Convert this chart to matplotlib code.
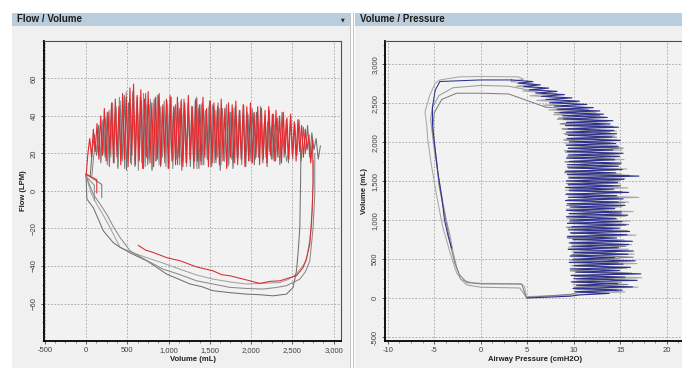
import numpy as np
import matplotlib
matplotlib.use('Agg')
import matplotlib.pyplot as plt
from matplotlib.patches import Rectangle
from matplotlib.ticker import AutoMinorLocator, FuncFormatter

plt.rcParams['font.family'] = ['Liberation Sans', 'DejaVu Sans']

# ---------------- Flow / Volume data ----------------
# inspiration flow (LPM), alternating trough / peak along the breath
red_in_flow = [8, 20, 28, 18, 33, 21, 36, 17, 40, 19, 44, 16, 42, 20, 47, 15, 49, 18, 45, 14, 52, 17, 50, 13,
               55, 19, 57, 14, 51, 16, 54, 12, 49, 18, 53, 15, 47, 13, 50, 17, 52, 14, 46, 19, 49, 12, 51, 16,
               45, 14, 50, 18, 48, 13, 47, 15, 51, 17, 45, 12, 49, 16, 46, 14, 50, 18, 44, 13, 48, 15, 47, 17,
               45, 14, 49, 16, 44, 12, 47, 18, 46, 15, 48, 14, 43, 17, 46, 13, 45, 16, 47, 15, 42, 18, 45, 14,
               44, 17, 43, 15, 45, 19, 41, 16, 43, 18, 40, 15, 42, 20, 39, 17, 41, 19, 37, 16, 38, 21, 35, 18,
               33, 22, 30, 15, 27]
red_in_range = (0, 2745)
gray1_in_flow = [8, 22, 30, 19, 35, 15, 38, 18, 42, 13, 46, 17, 44, 12, 48, 16, 51, 11, 47, 15, 53, 13, 50, 17,
                 48, 12, 52, 14, 46, 11, 49, 16, 51, 13, 45, 15, 48, 12, 50, 17, 46, 14, 44, 11, 49, 15, 47, 13,
                 45, 16, 50, 12, 46, 14, 43, 17, 48, 13, 45, 15, 47, 11, 44, 16, 46, 14, 42, 12, 45, 17, 43, 15,
                 46, 13, 41, 16, 44, 14, 42, 18, 45, 15, 40, 13, 43, 17, 41, 16, 39, 14, 42, 18, 38, 15, 40, 17,
                 36, 19, 38, 16, 34, 20, 35, 18, 31, 22, 28, 17, 24]
gray1_in_range = (0, 2600)
gray2_in_flow = [8, 18, 26, 21, 31, 16, 37, 20, 39, 14, 43, 18, 47, 15, 45, 13, 50, 17, 48, 12, 53, 16, 49, 14,
                 51, 18, 47, 11, 50, 15, 52, 13, 46, 17, 49, 12, 47, 16, 51, 14, 45, 18, 48, 13, 46, 15, 50, 12,
                 44, 17, 47, 14, 49, 16, 43, 13, 46, 18, 45, 15, 48, 12, 44, 16, 47, 14, 42, 17, 45, 13, 46, 15,
                 43, 18, 44, 14, 41, 16, 45, 13, 42, 17, 44, 15, 40, 18, 43, 14, 41, 16, 42, 19, 39, 15, 41, 17,
                 38, 20, 40, 16, 36, 18, 37, 21, 34, 17, 35, 22, 31, 19, 28, 23, 25, 16, 20]
gray2_in_range = (0, 2772)

# expiration limbs (volume mL, flow LPM)
red_ex_vol = [2745, 2752, 2740, 2712, 2671, 2631, 2550, 2450, 2349, 2230, 2106, 1950, 1743, 1640, 1541, 1340,
              1138, 980, 815, 720, 633]
red_ex_flow = [27, 5, -10.6, -28.4, -36, -40.8, -45.2, -46.5, -47.9, -48.2, -49.3, -47.5, -45.2, -44.6, -42.6,
               -40.5, -37.2, -35.6, -32.8, -31.5, -29]
grayA_ex_vol = [2600, 2603, 2591, 2570, 2550, 2510, 2429, 2267, 2100, 1945, 1740, 1541, 1400, 1259, 976, 860,
                734, 533, 492, 412, 331, 210, 89, 10, 0]
grayA_ex_flow = [24, 14, -19.5, -33, -42.6, -51.4, -55, -55.9, -55.3, -55, -54.2, -53.2, -51, -49.6, -44.3,
                 -40.8, -37.2, -33, -31.9, -30, -27.6, -21.3, -9, -4.3, 8]
grayB_ex_vol = [2772, 2772, 2752, 2712, 2660, 2591, 2429, 2300, 2146, 1950, 1743, 1540, 1339, 1138, 936, 734,
                533, 412, 330, 250, 170, 89, 0]
grayB_ex_flow = [20, -1.8, -19.5, -37.2, -43, -47, -50.5, -51.5, -52.3, -52, -51.4, -49.6, -47.9, -44.6, -41.7,
                 -37, -31.9, -24.8, -19, -12.4, -7, -1.8, 8]
grayC_ex_vol = [2760, 2752, 2732, 2671, 2550, 2450, 2349, 2146, 1945, 1743, 1541, 1339, 1138, 936, 734, 570,
                412, 290, 210, 130, 60, 0]
grayC_ex_flow = [16, 5.3, -19.5, -37.2, -44.3, -47.2, -48.8, -49.2, -49.6, -48.5, -47, -44.8, -41.7, -38.5,
                 -35.5, -33, -30.1, -19.5, -13, -7.1, -1, 8]
# short end-of-breath segments near zero volume
stub_red_vol, stub_red_flow = [0, 130, 130], [9, 6, -1]
stub_g1_vol, stub_g1_flow = [0, 190, 190], [9, 3.5, -3.6]
stub_g2_vol, stub_g2_flow = [0, 100, 100], [8, 3, -5]

# ---------------- Volume / Pressure data ----------------
blue_in_p = [10.5, 13.8, 10.1, 15.2, 9.9, 16.3, 10.3, 14.7, 9.8, 16.8,
             10.0, 15.5, 9.7, 17.2, 10.2, 14.9, 9.6, 16.1, 10.1, 15.3,
             9.5, 16.6, 9.9, 14.4, 9.6, 15.8, 10.0, 16.4, 9.4, 14.8,
             9.8, 15.9, 9.5, 16.3, 9.9, 14.6, 9.3, 15.7, 9.7, 16.0,
             9.4, 14.9, 9.8, 15.6, 9.3, 15.2, 9.6, 14.5, 9.2, 15.8,
             9.5, 15.1, 9.2, 14.4, 9.6, 15.5, 9.3, 14.8, 9.1, 15.3,
             9.4, 14.6, 9.2, 15.9, 9.5, 14.3, 9.1, 15.0, 9.4, 14.7,
             9.2, 15.4, 9.5, 17.0, 9.3, 14.5, 9.1, 15.2, 9.4, 14.8,
             9.3, 15.1, 9.5, 14.4, 9.2, 14.9, 9.4, 15.3, 9.3, 14.2,
             9.4, 14.8, 9.2, 14.5, 9.5, 15.0, 9.3, 14.1, 9.4, 14.6,
             9.2, 14.3, 9.4, 14.8, 9.1, 13.9, 9.2, 14.2, 8.9, 13.6,
             8.8, 13.2, 8.5, 12.8, 8.2, 12.1, 7.9, 11.4, 7.4, 10.6,
             7.0, 9.8, 6.5, 9.0, 5.9, 8.2, 5.2, 7.3, 4.6, 6.4,
             4.0, 5.6, 3.3]
blue_in_range = (40, 2800)
blue_start_p, blue_start_v = [5.0, 9.6], [2, 25]
blue_ex_p = [-0.1, -4.4, -4.9, -5.2, -5.2, -4.9, -4.6, -4.2, -3.9, -3.5, -3.15]
blue_ex_v = [2800, 2780, 2670, 2450, 2245, 1900, 1600, 1300, 1000, 790, 645]

gray1_in_p = [10.8, 15.5, 10.2, 16.9, 9.9, 15.1, 10.3, 17.3, 9.8, 16.2,
              10.1, 15.7, 9.7, 16.8, 9.9, 15.0, 9.6, 16.5, 9.8, 15.9,
              9.4, 16.2, 9.7, 15.4, 9.3, 16.7, 9.6, 15.8, 9.4, 14.9,
              9.7, 16.1, 9.3, 15.6, 9.5, 16.4, 9.2, 15.2, 9.6, 15.9,
              9.3, 17.0, 9.5, 15.3, 9.1, 15.8, 9.4, 14.9, 9.2, 15.5,
              9.4, 15.1, 9.1, 15.7, 9.3, 14.6, 9.0, 15.4, 9.3, 14.9,
              9.1, 15.2, 9.4, 14.7, 9.0, 15.0, 9.2, 14.4, 8.9, 14.6,
              8.7, 14.1, 8.5, 13.7, 8.2, 13.2, 7.8, 12.4, 7.3, 11.5,
              6.7, 10.4, 6.0, 9.3, 5.3, 8.1, 4.5, 6.9, 3.8, 5.7,
              3.2, 4.6, 4.0]
gray1_in_range = (50, 2840)
gray1_start_p, gray1_start_v = [4.9, 10.0], [20, 40]
gray1_ex_p = [0, -2.3, -4.4, -4.9, -5.5, -6.0, -5.8, -5.7, -5.3, -4.8, -4.4, -4.1, -3.7, -3.3, -2.9, -2.6,
              -2.1, -1.0, 0, 4.3, 4.7, 4.9]
gray1_ex_v = [2845, 2840, 2800, 2760, 2600, 2390, 2200, 2030, 1700, 1350, 1100, 918, 750, 580, 430, 324,
              235, 200, 190, 185, 150, 20]

gray2_in_p = [10.4, 14.6, 10.0, 15.8, 9.7, 14.3, 10.1, 16.1, 9.6, 15.2,
              9.9, 14.8, 9.5, 16.4, 9.8, 14.5, 9.4, 15.6, 9.7, 14.9,
              9.3, 15.3, 9.6, 14.2, 9.2, 15.9, 9.5, 14.7, 9.3, 15.1,
              9.6, 14.4, 9.2, 15.5, 9.4, 14.8, 9.1, 15.2, 9.5, 14.1,
              9.2, 14.9, 9.4, 16.0, 9.0, 14.5, 9.3, 15.0, 9.1, 14.3,
              9.3, 14.7, 9.0, 15.3, 9.2, 14.0, 8.9, 14.6, 9.1, 13.9,
              8.8, 14.2, 8.6, 13.5, 8.3, 12.8, 7.9, 11.6, 7.0]
gray2_in_range = (70, 2450)
gray2_start_p, gray2_start_v = [4.9, 9.7], [8, 50]
gray2_ex_p = [3.0, 0, -2.6, -4.2, -5.0, -5.2, -4.9, -4.7, -4.5, -4.0, -3.6, -3.2, -2.8, -2.3, -1.5, 0, 4.4, 4.9]
gray2_ex_v = [2620, 2630, 2630, 2550, 2380, 2150, 1900, 1700, 1450, 1150, 900, 650, 450, 300, 200, 183, 180, 5]

gray3_ex_p = [6.0, 3.0, 0, -3.0, -4.5, -5.2, -5.4, -5.2, -5.0, -4.6, -4.2, -3.7, -3.3, -3.0, -2.6, -2.2,
              -1.5, 0, 4.2, 4.9]
gray3_ex_v = [2650, 2720, 2730, 2700, 2600, 2450, 2300, 2100, 1900, 1600, 1300, 1000, 800, 600, 400, 250,
              170, 140, 130, 10]

fv_xticks = [-500, 0, 500, 1000, 1500, 2000, 2500, 3000]
fv_yticks = [-60, -40, -20, 0, 20, 40, 60]
pv_xticks = [-10, -5, 0, 5, 10, 15, 20]
pv_yticks = [-500, 0, 500, 1000, 1500, 2000, 2500, 3000]

W, H = 682, 368
fig = plt.figure(figsize=(W / 100, H / 100), dpi=100)
fig.patch.set_facecolor('white')


def rect(x0, y0, x1, y1, **kw):
    fig.add_artist(Rectangle((x0 / W, 1 - y1 / H), (x1 - x0) / W, (y1 - y0) / H,
                             transform=fig.transFigure, zorder=-10, **kw))


# panel backgrounds, headers and separator
rect(12, 13, 350, 368, color='#f0f0f0', lw=0)
rect(355, 13, 682, 368, color='#f0f0f0', lw=0)
rect(12, 13, 350, 26, color='#b9cddc', lw=0)
rect(355, 13, 682, 26, color='#b9cddc', lw=0)
rect(350, 13, 351, 368, color='#c4c4c4', lw=0)
rect(353, 13, 354, 368, color='#c4c4c4', lw=0)
fig.text(17 / W, 1 - 19.5 / H, 'Flow / Volume', fontsize=7, fontweight='bold', color='#1c1c1c',
         va='center', ha='left')
fig.text(360 / W, 1 - 19.5 / H, 'Volume / Pressure', fontsize=7, fontweight='bold', color='#1c1c1c',
         va='center', ha='left')
fig.text(343 / W, 1 - 19.5 / H, '\u25bc', fontsize=3.5, color='#202020', va='center', ha='center',
         family='DejaVu Sans')

ax1 = fig.add_axes([44 / W, 1 - 341 / H, 297 / W, 300 / H])
ax2 = fig.add_axes([385 / W, 1 - 341 / H, 301 / W, 300 / H])

comma = FuncFormatter(lambda v, pos: f'{v:,.0f}')


def style(ax, xticks, yticks, xlim, ylim, xlabel, ylabel, yfmt=None):
    ax.set_facecolor('#f2f2f2')
    ax.set_xlim(*xlim)
    ax.set_ylim(*ylim)
    ax.set_xticks(xticks)
    ax.set_yticks(yticks)
    ax.xaxis.set_major_formatter(comma)
    if yfmt is not None:
        ax.yaxis.set_major_formatter(yfmt)
    ax.xaxis.set_minor_locator(AutoMinorLocator(4))
    ax.yaxis.set_minor_locator(AutoMinorLocator(4))
    ax.grid(True, which='major', color='#a0a0a0', lw=0.6, linestyle=(0, (2, 2)))
    ax.tick_params(which='major', length=2.5, width=0.6, color='#404040', labelsize=5.5,
                   labelcolor='#404040', pad=2)
    ax.tick_params(which='minor', length=1.5, width=0.5, color='#606060')
    for lab in ax.get_yticklabels():
        lab.set_rotation(90)
        lab.set_va('center')
    for s in ('left', 'bottom'):
        ax.spines[s].set_color('black')
        ax.spines[s].set_linewidth(1.3)
    for s in ('top', 'right'):
        ax.spines[s].set_color('#505050')
        ax.spines[s].set_linewidth(0.8)
    ax.set_xlabel(xlabel, fontsize=5.5, fontweight='bold', color='#202020', labelpad=1)
    ax.set_ylabel(ylabel, fontsize=5.5, fontweight='bold', color='#202020', labelpad=3)
    ax.set_axisbelow(True)


style(ax1, fv_xticks, fv_yticks, (-510, 3090), (-80, 80), 'Volume (mL)', 'Flow (LPM)')
style(ax2, pv_xticks, pv_yticks, (-10.3, 22.06), (-550, 3300), 'Airway Pressure (cmH2O)', 'Volume (mL)',
      yfmt=comma)

# --- flow / volume loops ---
lw = 0.75
ax1.plot(grayC_ex_vol, grayC_ex_flow, color='#a2a2a2', lw=lw)
for flows, rng, ex_v, ex_f, col in [(gray1_in_flow, gray1_in_range, grayA_ex_vol, grayA_ex_flow, '#707070'),
                                    (gray2_in_flow, gray2_in_range, grayB_ex_vol, grayB_ex_flow, '#8a8a8a')]:
    ax1.plot(np.linspace(rng[0], rng[1], len(flows)), flows, color=col, lw=lw)
    ax1.plot(ex_v, ex_f, color=col, lw=lw)
ax1.plot(stub_g1_vol, stub_g1_flow, color='#7a7a7a', lw=lw)
ax1.plot(stub_g2_vol, stub_g2_flow, color='#8a8a8a', lw=lw)
ax1.plot(np.linspace(red_in_range[0], red_in_range[1], len(red_in_flow)), red_in_flow,
         color='#e8262b', lw=0.8)
ax1.plot(red_ex_vol, red_ex_flow, color='#d42a2e', lw=lw)
ax1.plot(stub_red_vol, stub_red_flow, color='#d42a2e', lw=lw)

# --- volume / pressure loops ---
ax2.plot(gray3_ex_p, gray3_ex_v, color='#9a9a9a', lw=lw)
for p, rng, sp, sv, ep, ev, col in [
        (gray1_in_p, gray1_in_range, gray1_start_p, gray1_start_v, gray1_ex_p, gray1_ex_v, '#a8a8a8'),
        (gray2_in_p, gray2_in_range, gray2_start_p, gray2_start_v, gray2_ex_p, gray2_ex_v, '#808080')]:
    v = np.linspace(rng[0], rng[1], len(p))
    ax2.plot(list(sp) + p, list(sv) + list(v), color=col, lw=lw)
    ax2.plot([p[-1]] + ep, [v[-1]] + ev, color=col, lw=lw)
bv = np.linspace(blue_in_range[0], blue_in_range[1], len(blue_in_p))
ax2.plot(blue_start_p + blue_in_p, blue_start_v + list(bv), color='#2b2f8f', lw=0.8)
ax2.plot([blue_in_p[-1]] + blue_ex_p, [bv[-1]] + blue_ex_v, color='#2b2f8f', lw=lw)

fig.savefig('out.png', dpi=100)
